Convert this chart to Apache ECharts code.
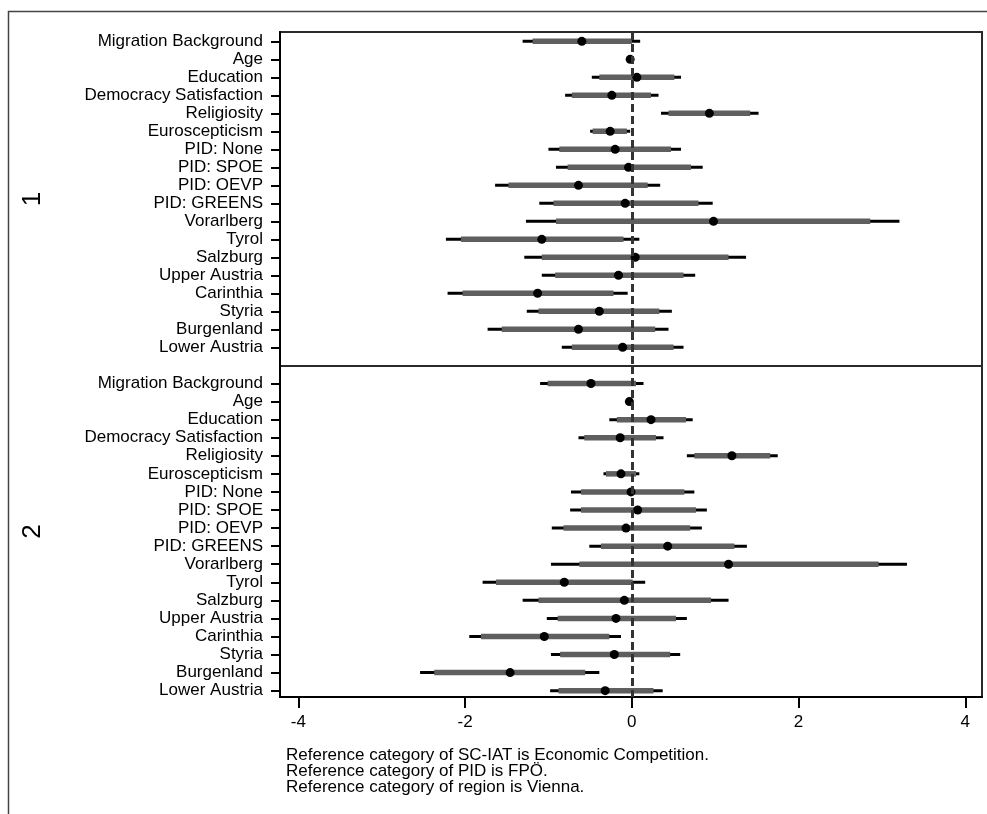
<!DOCTYPE html>
<html>
<head>
<meta charset="utf-8">
<script src="https://cdn.jsdelivr.net/npm/echarts@6/dist/echarts.min.js"></script>
<style>
  html, body { margin: 0; padding: 0; background: #fff; }
  #chart { width: 987px; height: 814px; }
</style>
</head>
<body>
<div id="chart"></div>
<script>
// row labels (top to bottom)
const labels = ['Migration Background', 'Age', 'Education', 'Democracy Satisfaction', 'Religiosity',
    'Euroscepticism', 'PID: None', 'PID: SPOE', 'PID: OEVP', 'PID: GREENS', 'Vorarlberg', 'Tyrol',
    'Salzburg', 'Upper Austria', 'Carinthia', 'Styria', 'Burgenland', 'Lower Austria'];
const xTicks = [-4, -2, 0, 2, 4];
const notes = ['Reference category of SC-IAT is Economic Competition.',
    'Reference category of PID is FPÖ.',
    'Reference category of region is Vienna.'];

// model 1
const est1  = [-0.60, -0.02, 0.06, -0.24, 0.93, -0.26, -0.20, -0.04, -0.64, -0.08, 0.98, -1.08, 0.04, -0.16, -1.13, -0.39, -0.64, -0.11];
const lo95_1 = [-1.31, -0.03, -0.48, -0.80, 0.35, -0.50, -1.00, -0.91, -1.64, -1.11, -1.27, -2.23, -1.29, -1.08, -2.21, -1.26, -1.73, -0.84];
const lo90_1 = [-1.19, -0.03, -0.39, -0.72, 0.44, -0.47, -0.87, -0.77, -1.48, -0.94, -0.91, -2.05, -1.08, -0.92, -2.03, -1.12, -1.56, -0.72];
const hi90_1 = [0.00, -0.01, 0.51, 0.23, 1.42, -0.06, 0.47, 0.71, 0.19, 0.80, 2.86, -0.10, 1.16, 0.62, -0.22, 0.33, 0.28, 0.50];
const hi95_1 = [0.10, -0.01, 0.59, 0.32, 1.52, -0.02, 0.59, 0.85, 0.34, 0.97, 3.21, 0.09, 1.37, 0.76, -0.05, 0.48, 0.44, 0.62];

// model 2
const est2  = [-0.49, -0.03, 0.23, -0.14, 1.20, -0.13, -0.01, 0.07, -0.07, 0.43, 1.16, -0.81, -0.09, -0.19, -1.05, -0.21, -1.46, -0.32];
const lo95_2 = [-1.10, -0.04, -0.27, -0.64, 0.66, -0.34, -0.73, -0.74, -0.96, -0.51, -0.97, -1.79, -1.31, -1.02, -1.95, -0.97, -2.54, -0.98];
const lo90_2 = [-1.01, -0.04, -0.18, -0.57, 0.75, -0.31, -0.61, -0.61, -0.82, -0.37, -0.63, -1.63, -1.12, -0.89, -1.81, -0.86, -2.37, -0.88];
const hi90_2 = [0.05, -0.02, 0.65, 0.29, 1.66, 0.05, 0.63, 0.77, 0.70, 1.23, 2.96, 0.01, 0.95, 0.53, -0.27, 0.46, -0.56, 0.26];
const hi95_2 = [0.14, -0.02, 0.73, 0.38, 1.75, 0.09, 0.75, 0.90, 0.84, 1.38, 3.30, 0.16, 1.16, 0.66, -0.13, 0.58, -0.39, 0.37];

const FONT = '"Liberation Sans", Arial, Helvetica, sans-serif';
const rowIdx = labels.map(function (l, i) { return i; });

function rows(lo95, lo90, est, hi90, hi95) {
    return labels.map(function (l, i) {
        return [i, lo95[i], lo90[i], est[i], hi90[i], hi95[i]];
    });
}

function renderItem(params, api) {
    const y = api.value(0);
    const a = api.coord([api.value(1), y]);
    const b = api.coord([api.value(2), y]);
    const c = api.coord([api.value(3), y]);
    const d = api.coord([api.value(4), y]);
    const e = api.coord([api.value(5), y]);
    return {
        type: 'group',
        children: [
            { type: 'line', shape: { x1: a[0], y1: a[1], x2: e[0], y2: e[1] },
              style: { stroke: '#000', lineWidth: 3 } },
            { type: 'line', shape: { x1: b[0], y1: b[1], x2: d[0], y2: d[1] },
              style: { stroke: '#5f5f5f', lineWidth: 5.5 } },
            { type: 'circle', shape: { cx: c[0], cy: c[1], r: 4.5 },
              style: { fill: '#000' } }
        ]
    };
}

function yAxis(idx, name, min, max) {
    return {
        type: 'value', gridIndex: idx, inverse: true, min: min, max: max, position: 'left',
        name: name, nameLocation: 'middle', nameRotate: 90, nameGap: 234,
        nameTextStyle: { fontFamily: FONT, fontSize: 26, color: '#000' },
        splitLine: { show: false },
        axisLine: { show: true, onZero: false, lineStyle: { color: '#000', width: 2 } },
        axisTick: { show: true, customValues: rowIdx, length: 9, lineStyle: { color: '#000', width: 2 } },
        axisLabel: {
            customValues: rowIdx, margin: 17, color: '#000', fontFamily: FONT, fontSize: 17,
            formatter: function (v) { return labels[v]; }
        }
    };
}

function xAxis(idx, show) {
    return {
        type: 'value', gridIndex: idx, min: -4.22, max: 4.2, show: show, position: 'bottom',
        splitLine: { show: false },
        axisLine: { show: true, onZero: false, lineStyle: { color: '#000', width: 2 } },
        axisTick: { show: true, customValues: xTicks, length: 11, lineStyle: { color: '#000', width: 2 } },
        axisLabel: { customValues: xTicks, margin: 17, color: '#000', fontFamily: FONT, fontSize: 17 }
    };
}

function zeroLine() {
    return {
        silent: true, symbol: 'none', label: { show: false },
        lineStyle: { color: '#333', width: 3, type: [8, 4] },
        data: [{ xAxis: 0 }]
    };
}

const chart = echarts.init(document.getElementById('chart'), null, { renderer: 'canvas' });
chart.setOption({
    animation: false,
    backgroundColor: '#fff',
    grid: [
        { left: 280, width: 702, top: 32, height: 334, show: true, borderColor: '#2a2a2a', borderWidth: 2 },
        { left: 280, width: 702, top: 366, height: 331, show: true, borderColor: '#2a2a2a', borderWidth: 2 }
    ],
    xAxis: [xAxis(0, false), xAxis(1, true)],
    yAxis: [yAxis(0, '1', -0.52, 18.04), yAxis(1, '2', -0.97, 17.35)],
    series: [
        { type: 'custom', xAxisIndex: 0, yAxisIndex: 0, renderItem: renderItem,
          encode: { x: [1, 5], y: 0 }, data: rows(lo95_1, lo90_1, est1, hi90_1, hi95_1), markLine: zeroLine() },
        { type: 'custom', xAxisIndex: 1, yAxisIndex: 1, renderItem: renderItem,
          encode: { x: [1, 5], y: 0 }, data: rows(lo95_2, lo90_2, est2, hi90_2, hi95_2), markLine: zeroLine() }
    ],
    graphic: [
        { type: 'rect', left: 6, top: 9, shape: { x: 0, y: 0, width: 1000, height: 900 },
          style: { fill: 'none', stroke: '#444', lineWidth: 1.5 }, silent: true },
        { type: 'text', left: 286, top: 747,
          style: { text: notes.join('\n'), font: '17px ' + FONT, lineHeight: 16, fill: '#000' } }
    ]
});
</script>
</body>
</html>
